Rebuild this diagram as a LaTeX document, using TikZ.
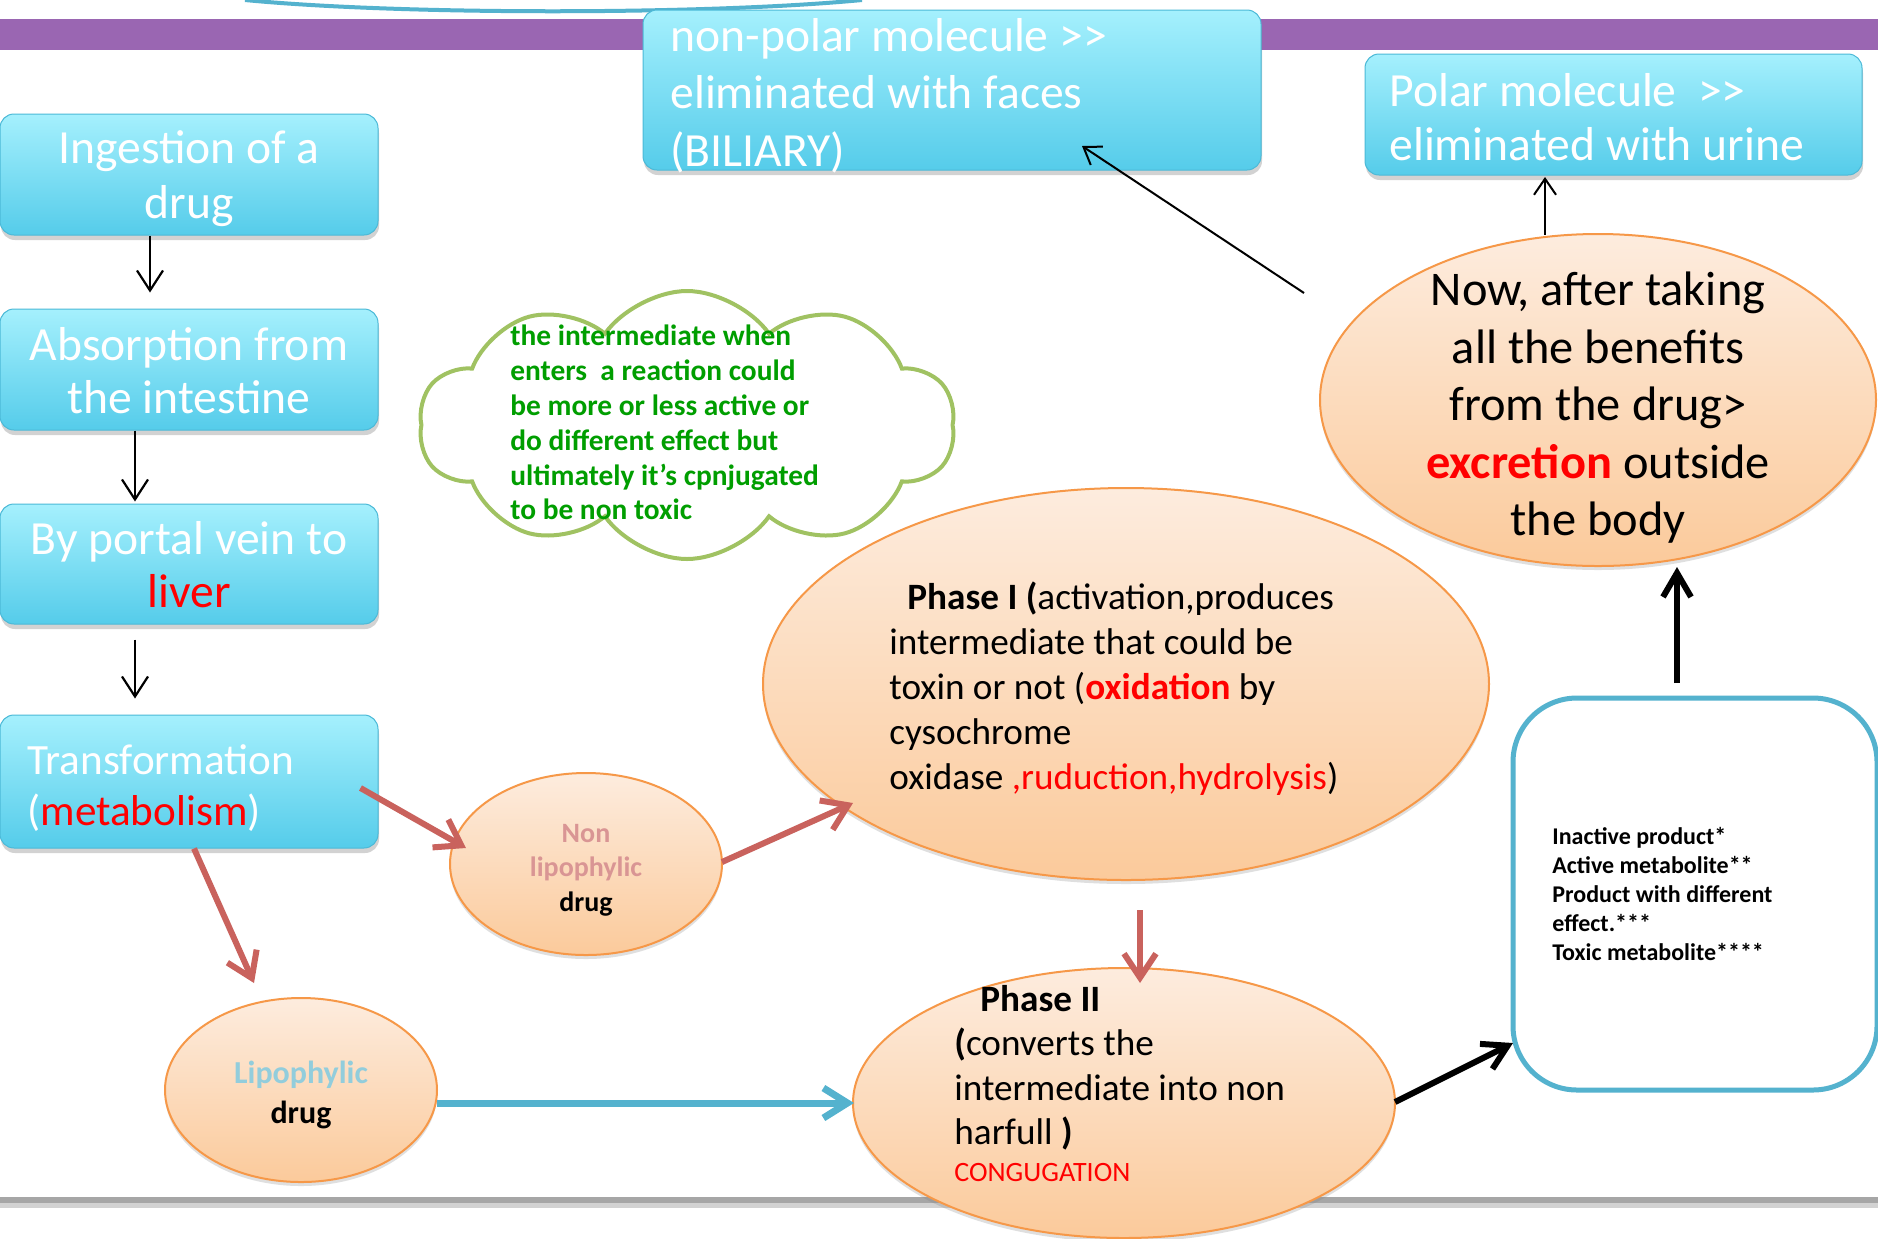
\documentclass[tikz,border=0pt]{standalone}
\usepackage{fontspec}
\setmainfont{Carlito}
\usetikzlibrary{shapes.geometric,shapes.symbols,arrows.meta,calc,shadows}
\definecolor{cyanT}{RGB}{165,240,253}
\definecolor{cyanB}{RGB}{85,204,234}
\definecolor{cyanE}{RGB}{75,185,215}
\definecolor{peachT}{RGB}{253,236,222}
\definecolor{peachB}{RGB}{251,202,155}
\definecolor{peachE}{RGB}{246,152,72}
\definecolor{arrred}{RGB}{201,98,93}
\definecolor{arrblue}{RGB}{84,178,206}
\definecolor{cloudg}{RGB}{160,194,98}
\definecolor{txtg}{RGB}{0,158,0}
\definecolor{pinkt}{RGB}{217,149,148}
\definecolor{lipb}{RGB}{146,205,220}
\definecolor{purp}{RGB}{154,102,178}
\definecolor{redt}{RGB}{255,0,0}
\newcommand{\fsz}[2]{\fontsize{#1}{#2}\selectfont}
\newcommand{\stt}{\rule{0pt}{1em}}
\begin{document}
\begin{tikzpicture}[x=0.5pt,y=-0.5pt,
  cbox/.style={rectangle, rounded corners=7pt, top color=cyanT, bottom color=cyanB, draw=cyanE, line width=0.5pt, inner sep=0pt,
    drop shadow={shadow xshift=0.5pt, shadow yshift=-2.5pt, opacity=0.35}},
  pell/.style={ellipse, top color=peachT, bottom color=peachB, draw=peachE, line width=1pt, inner sep=0pt,
    drop shadow={shadow xshift=0pt, shadow yshift=-2pt, opacity=0.25}},
  wtxt/.style={text=white, inner sep=0pt},
  btxt/.style={text=black, inner sep=0pt},
  redarr/.style={draw=arrred, line width=3pt, -{Straight Barb[length=12pt,width=16pt]}},
  bluearr/.style={draw=arrblue, line width=3.5pt, -{Straight Barb[length=12pt,width=15pt]}},
  thickarr/.style={draw=black, line width=3pt, -{Straight Barb[length=12pt,width=14pt]}},
  thinarr/.style={draw=black, line width=1pt, -{Straight Barb[length=8pt,width=11pt]}},
  flowarr/.style={draw=black, line width=1.1pt, -{Straight Barb[length=10pt,width=13pt]}}
]
\useasboundingbox (0,0) rectangle (1878,1238);
\fill[white] (0,0) rectangle (1878,1238);
% decorations
\draw[arrblue, line width=2pt] (245,0) .. controls (400,15) and (705,15) .. (862,0);
\fill[purp] (0,19) rectangle (1878,50);
\fill[gray!35] (0,1203) rectangle (1878,1208);
\fill[gray!70] (0,1197) rectangle (1878,1203);

% left column boxes
\node[cbox, minimum width=189pt, minimum height=60.5pt] (b1) at (189,174.5) {};
\node[cbox, minimum width=189pt, minimum height=60.5pt] (b2) at (189,369.5) {};
\node[cbox, minimum width=189pt, minimum height=60pt] (b3) at (189,564) {};
\node[cbox, minimum width=189pt, minimum height=66.5pt] (b4) at (189,781.5) {};
% top boxes
\node[cbox, minimum width=309pt, minimum height=80pt] (np) at (952,90) {};
\node[cbox, minimum width=248.5pt, minimum height=60.5pt] (pol) at (1613.5,114.5) {};

% ellipses
\node[pell, minimum width=136pt, minimum height=91pt] (nonlip) at (586,864) {};
\node[pell, minimum width=136pt, minimum height=92pt] (lip) at (301,1090) {};
\node[pell, minimum width=363pt, minimum height=196pt] (ph1) at (1126,684) {};
\node[pell, minimum width=271pt, minimum height=135pt] (ph2) at (1124,1103) {};
\node[pell, minimum width=278pt, minimum height=166pt] (now) at (1598,400) {};

% rounded result box
\node[draw=arrblue, line width=2.5pt, fill=white, rounded corners=32pt, minimum width=182pt, minimum height=196pt] (rbox) at (1695,894) {};

% cloud
\node[cloud, draw=cloudg, line width=2pt, fill=white, cloud puffs=10, cloud puff arc=110, aspect=2,
  minimum width=268pt, minimum height=134pt, inner sep=0pt] (cloud) at (687,425) {};

% texts
\node[wtxt, anchor=north, align=center, font=\fsz{23.8pt}{27.5pt}] (t1) at (189,115) {\stt Ingestion of a\\drug};
\node[wtxt, anchor=north, align=center, font=\fsz{23.8pt}{26.5pt}] (t2) at (189,312) {\stt Absorption from\\the intestine};
\node[wtxt, anchor=north, align=center, font=\fsz{23.8pt}{26.5pt}] (t3) at (189,506) {\stt By portal vein to\\{\color{redt}liver}};
\node[wtxt, anchor=north west, align=left, font=\fsz{21.6pt}{25.5pt}] (t4) at (27,731) {\stt Transformation\\({\color{redt}metabolism})};
\node[wtxt, anchor=north west, align=left, font=\fsz{23.8pt}{28.75pt}] (tnp) at (670,3) {\stt non-polar molecule >{}>\\eliminated with faces\\(BILIARY)};
\node[wtxt, anchor=north west, align=left, font=\fsz{23.8pt}{27pt}] (tpol) at (1389,58) {\stt Polar molecule\ \ >{}>\\eliminated with urine};
\node[btxt, anchor=north, align=center, font=\fsz{24.2pt}{28.7pt}] (tnow) at (1598,257) {\stt Now, after taking\\all the benefits\\from the drug>\\{\color{redt}\bfseries excretion} outside\\the body};
\node[btxt, anchor=north west, align=left, font=\fsz{18.6pt}{22.5pt}] (tph1) at (889,571.5) {\stt\hspace*{9pt}\textbf{Phase I (}activation,produces\\intermediate that could be\\toxin or not ({\color{redt}\bfseries oxidation} by\\cysochrome\\oxidase {\color{redt},ruduction,hydrolysis})};
\node[btxt, anchor=north west, align=left, font=\fsz{18.6pt}{22.2pt}] (tph2) at (954,973.6) {\stt\hspace*{13pt}\textbf{Phase II}\\\textbf{(}converts the\\intermediate into non\\harfull \textbf{)}};
\node[text=redt, inner sep=0pt, anchor=base west, font=\fsz{14pt}{17pt}] (tcong) at (954,1181) {CONGUGATION};
\node[btxt, anchor=north west, align=left, font=\fsz{12pt}{14.5pt}\bfseries] (trb) at (1552,820.5) {\stt Inactive product*\\Active metabolite**\\Product with different\\effect.***\\Toxic metabolite****};
\node[text=txtg, inner sep=0pt, anchor=north west, align=left, font=\fsz{14.7pt}{17.4pt}\bfseries] (tcl) at (510,316) {\stt the intermediate when\\enters\ \ a reaction could\\be more or less active or\\do different effect but\\ultimately it's cpnjugated\\to be non toxic};
\node[btxt, anchor=north, align=center, font=\fsz{14pt}{17.25pt}\bfseries] (tnl) at (586,814) {\stt{\color{pinkt}Non}\\{\color{pinkt}lipophylic}\\drug};
\node[btxt, anchor=north, align=center, font=\fsz{16pt}{20pt}\bfseries] (tl) at (301,1051) {\stt{\color{lipb}Lipophylic}\\drug};

% connectors
\draw[flowarr] ($(b1.south)+(-39,0)$) -- ($(b2.north)+(-39,-16)$);
\draw[flowarr] ($(b2.south)+(-54,0)$) -- ($(b3.north)+(-54,-2)$);
\draw[flowarr] ($(b3.south)+(-54,15)$) -- ($(b4.north)+(-54,-16)$);
\draw[redarr] ($(b4.east)+(-18,6.5)$) -- ($(nonlip.center)+(-120,-16)$);
\draw[redarr] ($(b4.south)+(5,0)$) -- ($(lip.center)+(-47,-107)$);
\draw[redarr] ($(nonlip.center)+(136,-2)$) -- ($(ph1.center)+(-273,119)$);
\draw[redarr] ($(ph1.center)+(14,226)$) -- ($(ph2.center)+(16,-120)$);
\draw[bluearr] ($(lip.center)+(136,13)$) -- ($(ph2.center)+(-270,0)$);
\draw[thickarr] ($(ph2.center)+(271,-1)$) -- ($(rbox.center)+(-182,149)$);
\draw[thickarr] ($(rbox.center)+(-18,-211)$) -- ($(now.center)+(79,167)$);
\draw[thinarr] ($(now.center)+(-294,-107)$) -- ($(np.center)+(130,56)$);
\draw[thinarr] ($(now.center)+(-53,-165)$) -- ($(pol.center)+(-68.5,62.5)$);
\end{tikzpicture}
\end{document}
